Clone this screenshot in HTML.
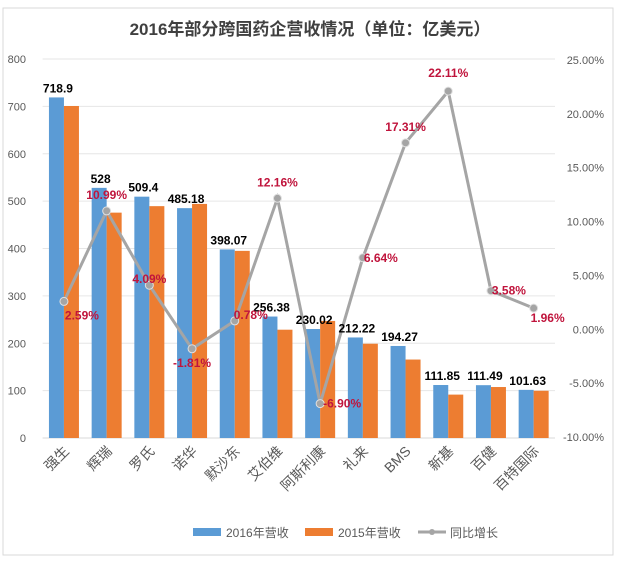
<!DOCTYPE html>
<html><head><meta charset="utf-8">
<style>
body{margin:0;background:#fff;}
svg{display:block;font-family:"Liberation Sans","Noto Sans CJK SC",sans-serif;}
</style></head>
<body>
<svg id="chart" width="622" height="562">
<rect x="3" y="8" width="610" height="547" fill="#fff" stroke="#d9d9d9"/>
<text x="310" y="35" text-anchor="middle" font-size="17" font-weight="bold" fill="#404040">2016年部分跨国药企营收情况（单位：亿美元）</text>
<g id="grid"></g><g id="bars"></g><g id="line"></g><g id="labels"></g><g id="axes"></g>
<g>
<rect x="193" y="528" width="28" height="8" fill="#5b9bd5"/>
<text x="226" y="537" font-size="12" fill="#595959">2016年营收</text>
<rect x="305" y="528" width="28" height="8" fill="#ed7d31"/>
<text x="338" y="537" font-size="12" fill="#595959">2015年营收</text>
<line x1="418" y1="532" x2="446" y2="532" stroke="#a5a5a5" stroke-width="3"/>
<circle cx="432" cy="532" r="3" fill="#a5a5a5"/>
<text x="450" y="537" font-size="12" fill="#595959">同比增长</text>
</g>
</svg>
<script>
const categories=["强生","辉瑞","罗氏","诺华","默沙东","艾伯维","阿斯利康","礼来","BMS","新基","百健","百特国际"];
const rev2016=[718.9,528,509.4,485.18,398.07,256.38,230.02,212.22,194.27,111.85,111.49,101.63];
const rev2015=[700.8,475.7,489.4,494.1,395,228.6,247.1,199,165.6,91.6,107.6,99.7];
const growth=[2.59,10.99,4.09,-1.81,0.78,12.16,-6.90,6.64,17.31,22.11,3.58,1.96];
const leftTicks=[0,100,200,300,400,500,600,700,800];
const rightTicks=[-10,-5,0,5,10,15,20,25];
const pctDx=[18,0,0,0,16,0,22,18,0,0,18,14];
const pctDy=[18,-12,-2,18,-2,-12,4,4,-12,-14,4,14];
const NS="http://www.w3.org/2000/svg";
const x0=42.6,step=42.7,y0=438,yTop=59;
const yL=v=>y0-(v/800)*(y0-yTop);
const yR=p=>437-((p+10)/35)*(437-60);
const xc=i=>x0+step*(i+0.5);
function mk(t,a,p){const e=document.createElementNS(NS,t);for(const k in a)e.setAttribute(k,a[k]);p.appendChild(e);return e;}
const grid=document.getElementById('grid'),axes=document.getElementById('axes');
leftTicks.forEach(v=>{
 const l=mk('line',{x1:x0,x2:555,y1:yL(v),y2:yL(v),stroke:v===0?'#d9d9d9':'#e6e6e6'},grid);
 
 
 const t=mk('text',{x:26,y:yL(v)+4,'text-anchor':'end','font-size':11,fill:'#595959'},axes);t.textContent=v;
 
 
});
rightTicks.forEach(p=>{
 const t=mk('text',{x:604,y:yR(p)+4,'text-anchor':'end','font-size':11,fill:'#595959'},axes);t.textContent=p.toFixed(2)+'%';
 
 
});
const bars=document.getElementById('bars'),labels=document.getElementById('labels');
categories.forEach((c,i)=>{
 const b1=mk('rect',{x:xc(i)-15,y:yL(rev2016[i]),width:15,height:y0-yL(rev2016[i]),fill:'#5b9bd5'},bars);
 
 
 const b2=mk('rect',{x:xc(i),y:yL(rev2015[i]),width:15,height:y0-yL(rev2015[i]),fill:'#ed7d31'},bars);
 
 
 const vl=mk('text',{x:xc(i)-6,y:yL(rev2016[i])-5,'text-anchor':'middle','font-size':12,'font-weight':'bold',fill:'#000'},labels);vl.textContent=rev2016[i];
 
 
 const xl=mk('text',{transform:`translate(${xc(i)+6},${y0+14}) rotate(-45)`,'text-anchor':'end','font-size':14,fill:'#595959'},axes);xl.textContent=c;
 
 
});
const lineG=document.getElementById('line');
const pts=growth.map((g,i)=>xc(i)+','+yR(g)).join(' ');
const pl=mk('polyline',{points:pts,fill:'none',stroke:'#a5a5a5','stroke-width':3},lineG);


growth.forEach((g,i)=>{
 const c=mk('circle',{cx:xc(i),cy:yR(g),r:4,fill:'#a5a5a5',stroke:'#e0e0e0'},lineG);
 
 
 const t=mk('text',{x:xc(i)+pctDx[i],y:yR(g)+pctDy[i],'text-anchor':'middle','font-size':12,'font-weight':'bold',fill:'#c0143c'},labels);t.textContent=g.toFixed(2)+'%';
 
 
});
</script>
</body></html>
